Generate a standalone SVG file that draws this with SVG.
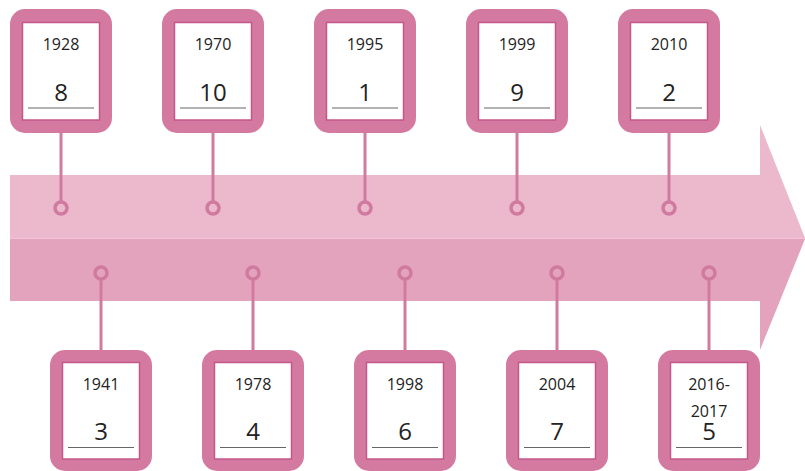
<svg xmlns="http://www.w3.org/2000/svg" width="805" height="471" viewBox="0 0 805 471">
<style>
.outer{fill:#d47aa0}
.inner{fill:#fff;stroke:#c4578a;stroke-width:1.5}
.yr{font-family:"Open Sans","Liberation Sans",sans-serif;font-size:16px;fill:#222;text-anchor:middle}
.num{font-family:"Open Sans","Liberation Sans",sans-serif;font-size:24px;fill:#222;text-anchor:middle}
.ul{stroke:#666;stroke-width:1.2}
.conn line{stroke:#d07aa0;stroke-width:3}
.conn circle{fill:none;stroke:#d07aa0;stroke-width:3.5}
</style>
<g id="arrow">
<polygon points="10,175 760,175 760,125 805,238 10,238" fill="#ebb8cc"/>
<polygon points="10,239 805,239 760,350 760,301 10,301" fill="#e3a3bd"/>
<line x1="10" y1="238.5" x2="805" y2="238.5" stroke="#f0c6d6" stroke-width="1"/>
</g>
<g class="conn" id="connectors">
<line x1="61" y1="132" x2="61" y2="202"/><circle cx="61" cy="208" r="6"/>
<line x1="213" y1="132" x2="213" y2="202"/><circle cx="213" cy="208" r="6"/>
<line x1="365" y1="132" x2="365" y2="202"/><circle cx="365" cy="208" r="6"/>
<line x1="517" y1="132" x2="517" y2="202"/><circle cx="517" cy="208" r="6"/>
<line x1="669" y1="132" x2="669" y2="202"/><circle cx="669" cy="208" r="6"/>
<line x1="101" y1="279" x2="101" y2="351"/><circle cx="101" cy="273" r="6"/>
<line x1="253" y1="279" x2="253" y2="351"/><circle cx="253" cy="273" r="6"/>
<line x1="405" y1="279" x2="405" y2="351"/><circle cx="405" cy="273" r="6"/>
<line x1="557" y1="279" x2="557" y2="351"/><circle cx="557" cy="273" r="6"/>
<line x1="709" y1="279" x2="709" y2="351"/><circle cx="709" cy="273" r="6"/>
</g>
<g id="n1928"><rect class="outer" x="10" y="9" width="102" height="124" rx="15"/><rect class="inner" x="22.5" y="22.5" width="77" height="97.5"/><text class="yr" x="61" y="50">1928</text><text class="num" x="61" y="101">8</text><line class="ul" x1="28" y1="108" x2="94" y2="108"/></g>
<g id="n1970"><rect class="outer" x="162" y="9" width="102" height="124" rx="15"/><rect class="inner" x="174.5" y="22.5" width="77" height="97.5"/><text class="yr" x="213" y="50">1970</text><text class="num" x="213" y="101">10</text><line class="ul" x1="180" y1="108" x2="246" y2="108"/></g>
<g id="n1995"><rect class="outer" x="314" y="9" width="102" height="124" rx="15"/><rect class="inner" x="326.5" y="22.5" width="77" height="97.5"/><text class="yr" x="365" y="50">1995</text><text class="num" x="365" y="101">1</text><line class="ul" x1="332" y1="108" x2="398" y2="108"/></g>
<g id="n1999"><rect class="outer" x="466" y="9" width="102" height="124" rx="15"/><rect class="inner" x="478.5" y="22.5" width="77" height="97.5"/><text class="yr" x="517" y="50">1999</text><text class="num" x="517" y="101">9</text><line class="ul" x1="484" y1="108" x2="550" y2="108"/></g>
<g id="n2010"><rect class="outer" x="618" y="9" width="102" height="124" rx="15"/><rect class="inner" x="630.5" y="22.5" width="77" height="97.5"/><text class="yr" x="669" y="50">2010</text><text class="num" x="669" y="101">2</text><line class="ul" x1="636" y1="108" x2="702" y2="108"/></g>
<g id="n1941"><rect class="outer" x="50" y="350" width="102" height="121" rx="15"/><rect class="inner" x="62.5" y="362.5" width="77" height="96.5"/><text class="yr" x="101" y="390">1941</text><text class="num" x="101" y="440">3</text><line class="ul" x1="68" y1="447.5" x2="134" y2="447.5"/></g>
<g id="n1978"><rect class="outer" x="202" y="350" width="102" height="121" rx="15"/><rect class="inner" x="214.5" y="362.5" width="77" height="96.5"/><text class="yr" x="253" y="390">1978</text><text class="num" x="253" y="440">4</text><line class="ul" x1="220" y1="447.5" x2="286" y2="447.5"/></g>
<g id="n1998"><rect class="outer" x="354" y="350" width="102" height="121" rx="15"/><rect class="inner" x="366.5" y="362.5" width="77" height="96.5"/><text class="yr" x="405" y="390">1998</text><text class="num" x="405" y="440">6</text><line class="ul" x1="372" y1="447.5" x2="438" y2="447.5"/></g>
<g id="n2004"><rect class="outer" x="506" y="350" width="102" height="121" rx="15"/><rect class="inner" x="518.5" y="362.5" width="77" height="96.5"/><text class="yr" x="557" y="390">2004</text><text class="num" x="557" y="440">7</text><line class="ul" x1="524" y1="447.5" x2="590" y2="447.5"/></g>
<g id="n2016"><rect class="outer" x="658" y="350" width="102" height="121" rx="15"/><rect class="inner" x="670.5" y="362.5" width="77" height="96.5"/><text class="yr" x="709" y="390">2016-</text><text class="yr" x="709" y="417">2017</text><text class="num" x="709" y="440">5</text><line class="ul" x1="676" y1="447.5" x2="742" y2="447.5"/></g>
</svg>
